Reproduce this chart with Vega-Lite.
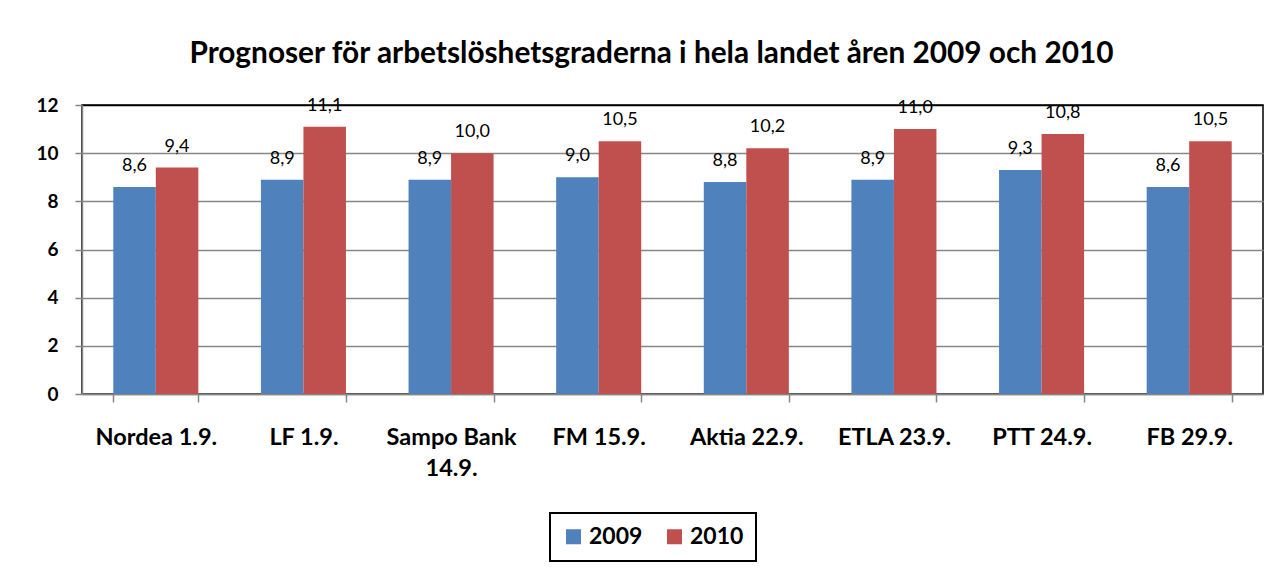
{
  "$schema": "https://vega.github.io/schema/vega-lite/v6.json",
  "width": 1181,
  "height": 289,
  "autosize": {"type": "none"},
  "padding": {"left": 82, "top": 105, "right": 19, "bottom": 174},
  "background": "white",
  "config": {
    "locale": {"number": {"decimal": ",", "thousands": " ", "grouping": [3], "currency": ["", " €"]}},
    "font": "Lato",
    "view": {"stroke": "black", "strokeWidth": 1.5},
    "legend": {"strokeWidth": 2}
  },
  "title": {
    "text": "Prognoser för arbetslöshetsgraderna i hela landet åren 2009 och 2010",
    "fontSize": 29.8,
    "fontWeight": "bold",
    "font": "Lato",
    "color": "black",
    "anchor": "middle",
    "frame": "group",
    "dx": -21,
    "baseline": "alphabetic",
    "offset": 3
  },
  "data": {
    "values": [
      {"source": "Nordea 1.9.", "year": "2009", "value": 8.6},
      {"source": "Nordea 1.9.", "year": "2010", "value": 9.4},
      {"source": "LF 1.9.", "year": "2009", "value": 8.9},
      {"source": "LF 1.9.", "year": "2010", "value": 11.1},
      {"source": "Sampo Bank 14.9.", "year": "2009", "value": 8.9},
      {"source": "Sampo Bank 14.9.", "year": "2010", "value": 10.0},
      {"source": "FM 15.9.", "year": "2009", "value": 9.0},
      {"source": "FM 15.9.", "year": "2010", "value": 10.5},
      {"source": "Aktia 22.9.", "year": "2009", "value": 8.8},
      {"source": "Aktia 22.9.", "year": "2010", "value": 10.2},
      {"source": "ETLA 23.9.", "year": "2009", "value": 8.9},
      {"source": "ETLA 23.9.", "year": "2010", "value": 11.0},
      {"source": "PTT 24.9.", "year": "2009", "value": 9.3},
      {"source": "PTT 24.9.", "year": "2010", "value": 10.8},
      {"source": "FB 29.9.", "year": "2009", "value": 8.6},
      {"source": "FB 29.9.", "year": "2010", "value": 10.5}
    ]
  },
  "encoding": {
    "x": {
      "field": "source",
      "type": "nominal",
      "sort": null,
      "title": null,
      "scale": {"paddingInner": 0.424, "paddingOuter": 0.212},
      "axis": {
        "labelAngle": 0,
        "labelFont": "Lato",
        "labelFontSize": 23.5,
        "labelFontWeight": "bold",
        "labelColor": "black",
        "labelBaseline": "top",
        "labelPadding": 23,
        "labelLineHeight": 31,
        "labelExpr": "datum.label == 'Sampo Bank 14.9.' ? ['Sampo Bank', '14.9.'] : datum.label",
        "tickBand": "extent",
        "tickSize": 8,
        "tickColor": "#868686",
        "tickWidth": 1.5,
        "domainColor": "#868686",
        "domainWidth": 1.5,
        "grid": false
      }
    },
    "xOffset": {"field": "year", "type": "nominal"},
    "y": {
      "field": "value",
      "type": "quantitative",
      "title": null,
      "scale": {"domain": [0, 12]},
      "axis": {
        "values": [0, 2, 4, 6, 8, 10, 12],
        "labelFont": "Lato",
        "labelFontSize": 19,
        "labelFontWeight": "bold",
        "labelColor": "black",
        "labelPadding": 17,
        "tickSize": 7,
        "tickColor": "#868686",
        "tickWidth": 1.5,
        "domainColor": "#868686",
        "domainWidth": 1.5,
        "gridColor": {"condition": {"test": "datum.value == 12", "value": "black"}, "value": "#868686"},
        "gridWidth": 1.5,
        "gridOpacity": 1
      }
    }
  },
  "layer": [
    {
      "mark": {"type": "bar"},
      "encoding": {
        "color": {
          "field": "year",
          "type": "nominal",
          "title": null,
          "scale": {"domain": ["2009", "2010"], "range": ["#4F81BD", "#C0504D"]},
          "legend": {
            "orient": "none",
            "legendX": 468,
            "legendY": 408,
            "direction": "horizontal",
            "symbolType": "square",
            "symbolSize": 225,
            "symbolStrokeWidth": 0,
            "labelFont": "Lato",
            "labelFontSize": 23,
            "labelFontWeight": "bold",
            "labelColor": "black",
            "columnPadding": 20,
            "padding": 12,
            "strokeColor": "black",
            "fillColor": "white"
          }
        }
      }
    },
    {
      "mark": {"type": "text", "baseline": "alphabetic", "dy": -16, "fontSize": 18, "font": "Lato", "color": "black"},
      "encoding": {
        "text": {"field": "value", "type": "quantitative", "format": ".1f"}
      }
    }
  ]
}
